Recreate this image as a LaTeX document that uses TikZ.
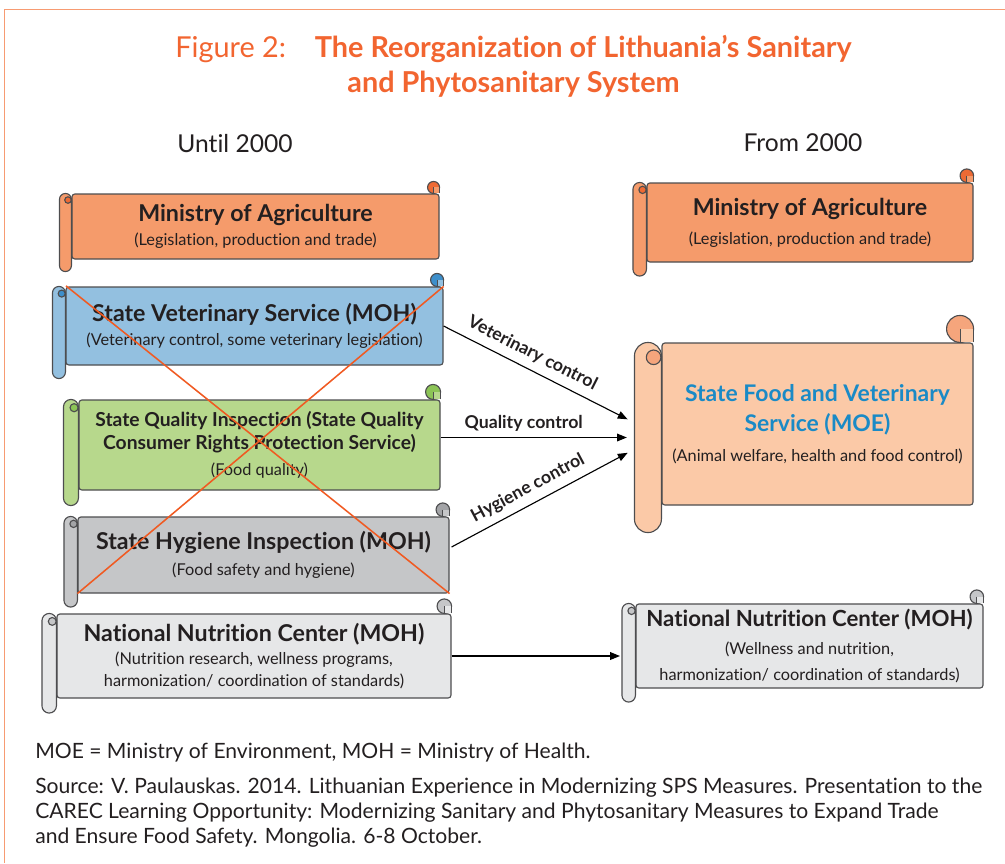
\documentclass[tikz,border=0pt]{standalone}
\usepackage{fontspec}
\setmainfont{Lato}[Ligatures=NoCommon]
\usetikzlibrary{positioning,calc,fit,arrows.meta}

\definecolor{textdark}{HTML}{231F20}
\definecolor{linegray}{HTML}{4D4D4F}
\definecolor{framecol}{HTML}{F79B72}
\definecolor{titlecol}{HTML}{F26530}
\definecolor{crosscol}{HTML}{F05A22}
\definecolor{foodblue}{HTML}{1A8AC6}
\definecolor{agrfill}{HTML}{F59B6B}
\definecolor{agrcurl}{HTML}{EE6A34}
\definecolor{vetfill}{HTML}{93C0E0}
\definecolor{vetcurl}{HTML}{3D8FCB}
\definecolor{qualfill}{HTML}{B7D88C}
\definecolor{qualcurl}{HTML}{8CC456}
\definecolor{hygfill}{HTML}{C5C6C8}
\definecolor{hygcurl}{HTML}{A3A4A7}
\definecolor{nutfill}{HTML}{E6E7E8}
\definecolor{nutcurl}{HTML}{C5C6C8}
\definecolor{foodfill}{HTML}{FBC9A7}
\definecolor{foodcurl}{HTML}{F5A57C}

\newcommand\tightlines{\lineskiplimit=-20pt\relax}
\newcommand\scrolltitle[1]{\fontsize{#1}{15}\selectfont\bfseries\tightlines}
\newcommand\scrollsub{\fontsize{11.6}{15}\selectfont\mdseries}
\newcommand\headfont{\fontsize{17.5}{20}\selectfont}
\newcommand\labfont{\fontsize{12.6}{15}\selectfont\bfseries}
\newcommand\notefont{\fontsize{15}{17.8}\selectfont}
\newcommand\figtitlefont{\fontsize{20.5}{25}\selectfont}

% roll on the left and curl on the top right of a scroll node
% #1 node, #2 roll width, #3 fill, #4 curl fill
\newcommand\scrollparts[4]{%
  \pgfmathsetmacro\rollr{#2*0.35566}%
  \coordinate (#1-a) at ($(#1.north west)+(-#2,0)$);
  \coordinate (#1-b) at ($(#1.south west)+(0,-#2)$);
  \node[roll node, fill=#3, rounded corners=\rollr pt, fit=(#1-a)(#1-b)] (#1-roll) {};
  \draw[scroll line, fill=#4] ($(#1-a)+(0.71*#2,-0.55*#2)$) circle[radius=0.27*#2];
  \coordinate (#1-c) at ($(#1.north east)+(-0.5*#2,0.5*#2)$);
  \draw[scroll line, fill=#4] (#1-c) circle[radius=0.5*#2];
  \fill[#3] (#1-c) rectangle (#1.north east);
  \draw[scroll line] (#1-c) -- (#1-c |- #1.north east);
  \draw[scroll line] (#1.north east) -- ++(0,0.5*#2);
}

\begin{document}
\begin{tikzpicture}[x=0.025cm, y=0.025cm,
    scroll line/.style={draw=linegray, line width=0.8pt},
    scroll node/.style={draw=linegray, line width=0.8pt, rounded corners=2pt, inner sep=0pt,
      align=center, text=textdark, font=\scrolltitle{16.5}},
    body size/.style 2 args={minimum width=#1*0.025cm, minimum height=#2*0.025cm},
    roll node/.style={draw=linegray, line width=0.8pt, inner sep=0pt},
    control arrow/.style={-{Triangle[length=7pt,width=5.5pt]}, line width=0.8pt, shorten >=5pt},
    arrow label/.style={font=\labfont, text=textdark, inner sep=5pt},
    cross line/.style={draw=crosscol, line width=1.1pt},
    header/.style={font=\headfont, text=textdark},
    note/.style={font=\notefont, text=textdark, align=left, inner sep=0pt},
  ]
  \useasboundingbox (0,0) rectangle (1005,-863);
  \draw[framecol, line width=1.4pt] (4.5,-863) -- (4.5,-9.5) -- (1005,-9.5);

  \node[font=\figtitlefont, text=titlecol, align=center] (title) at (513.5,-66.5)
    {Figure 2:\quad\textbf{The Reorganization of Lithuania’s Sanitary}\\\textbf{and Phytosanitary System}};

  \node[header] (until) at (235,-144) {Until 2000};
  \node[header] (from) at (803,-143) {From 2000};

  % until 2000
  \node[scroll node, fill=agrfill, body size={367}{65}] (agrOld) at (255.5,-226.5)
    {Ministry of Agriculture\\[2pt]{\scrollsub (Legislation, production and trade)}};
  \scrollparts{agrOld}{12}{agrfill}{agrcurl}
  \node[scroll node, fill=vetfill, body size={377}{78}] (vetOld) at (254.5,-326)
    {State Veterinary Service (MOH)\\[2.5pt]{\scrollsub (Veterinary control, some veterinary legislation)}};
  \scrollparts{vetOld}{13}{vetfill}{vetcurl}
  \node[scroll node, fill=qualfill, body size={361}{90}, font=\scrolltitle{13.7}] (qualOld) at (259.5,-445)
    {State Quality Inspection (State Quality\\[1.1pt]Consumer Rights Protection Service)\\[3.9pt]{\scrollsub (Food quality)}};
  \scrollparts{qualOld}{15}{qualfill}{qualcurl}
  \node[scroll node, fill=hygfill, body size={371}{76}] (hygOld) at (263.5,-555)
    {State Hygiene Inspection (MOH)\\[3.8pt]{\scrollsub (Food safety and hygiene)}};
  \scrollparts{hygOld}{13.5}{hygfill}{hygcurl}
  \node[scroll node, fill=nutfill, body size={394}{84}] (nutOld) at (254,-656)
    {National Nutrition Center (MOH)\\[1.4pt]{\scrollsub (Nutrition research, wellness programs,}\\{\scrollsub harmonization/ coordination of standards)}};
  \scrollparts{nutOld}{14.5}{nutfill}{nutcurl}

  % from 2000
  \node[scroll node, fill=agrfill, body size={326}{79}] (agrNew) at (810,-222.5)
    {Ministry of Agriculture\\[5.6pt]{\scrollsub (Legislation, production and trade)}};
  \scrollparts{agrNew}{13.5}{agrfill}{agrcurl}
  \node[scroll node, fill=foodfill, body size={311}{162}, font=\scrolltitle{16.3}] (food) at (817.5,-424)
    {\textcolor{foodblue}{State Food and Veterinary}\\[6.3pt]\textcolor{foodblue}{Service (MOE)}\\[6.6pt]{\scrollsub (Animal welfare, health and food control)}};
  \scrollparts{food}{27}{foodfill}{foodcurl}
  \node[scroll node, fill=nutfill, body size={347}{84}, font=\scrolltitle{15.8}] (nutNew) at (809.5,-646)
    {National Nutrition Center (MOH)\\[4.9pt]{\scrollsub (Wellness and nutrition,}\\[3pt]{\scrollsub harmonization/ coordination of standards)}};
  \scrollparts{nutNew}{13.5}{nutfill}{nutcurl}

  % crossed out
  \draw[cross line] (vetOld-roll.north east) -- (hygOld.south east);
  \draw[cross line] (vetOld.north east) -- (hygOld.south west);

  \draw[control arrow] (vetOld.east) -- ($(food-roll.west)+(0,15)$)
    node[pos=0.43, above, sloped, arrow label] {Veterinary control};
  \draw[control arrow] (food-roll.west -| qualOld.east) -- (food-roll.west)
    node[pos=0.43, above, arrow label, inner sep=4pt] {Quality control};
  \draw[control arrow] ($(hygOld.east)+(2,8)$) -- ($(food-roll.west)+(0,-12)$)
    node[pos=0.46, above, sloped, arrow label] {Hygiene control};
  \draw[control arrow, shorten >=1pt] (nutOld.east) -- (nutOld.east -| nutNew-roll.west);

  \node[note, anchor=west] (abbr) at (35,-753) {MOE = Ministry of Environment, MOH = Ministry of Health.};
  \node[note, anchor=north west] (source) at (35,-778)
    {Source: V. Paulauskas. 2014. Lithuanian Experience in Modernizing SPS Measures. Presentation to the\\
     CAREC Learning Opportunity: Modernizing Sanitary and Phytosanitary Measures to Expand Trade\\
     and Ensure Food Safety. Mongolia. 6-8 October.};
\end{tikzpicture}
\end{document}
